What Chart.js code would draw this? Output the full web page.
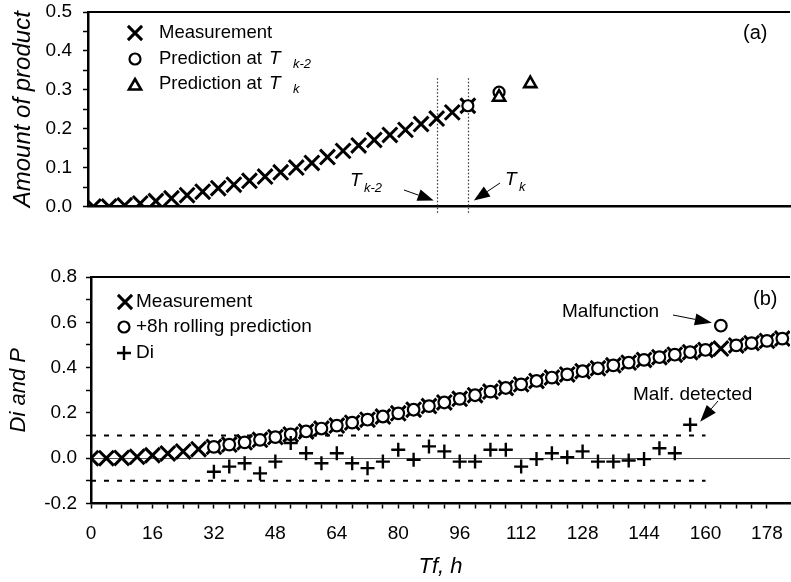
<!DOCTYPE html>
<html><head><meta charset="utf-8">
<script src="https://cdn.jsdelivr.net/npm/chart.js@4/dist/chart.umd.min.js"></script>
<style>
html,body{margin:0;padding:0;background:#fff;}
#wrap{position:relative;width:791px;height:582px;overflow:hidden;}
canvas{position:absolute;left:0;top:0;}
</style></head><body>
<div id="wrap"><canvas id="c1" width="791" height="582"></canvas><canvas id="c2" width="791" height="582"></canvas></div>
<script>
const FONT = '"Liberation Sans", Arial, Helvetica, sans-serif';

// ---------- Panel (a) data ----------
const timesA = [0,4,8,12,16,20,24,28,32,36,40,44,48,52,56,60,64,68,72,76,80,84,88,92,96];
const measA  = [0,0,0.003,0.008,0.014,0.021,0.029,0.038,0.047,0.056,0.066,0.077,0.088,0.1,0.112,0.127,0.143,0.157,0.171,0.184,0.197,0.212,0.226,0.242,0.259];
const predTk2Times = [96,104];
const predTk2Vals  = [0.259,0.294];
const predTkTimes  = [104,112];
const predTkVals   = [0.281,0.316];
const refTimesA    = [88,96];          // T_{k-2}, T_k
const refSubs      = ['k-2','k'];
const legendA      = ['Measurement','Prediction at','Prediction at'];

// ---------- Panel (b) data ----------
const timesB = [0,4,8,12,16,20,24,28,32,36,40,44,48,52,56,60,64,68,72,76,80,84,88,92,96,100,104,108,112,116,120,124,128,132,136,140,144,148,152,156,160,164,168,172,176,180];
const measB  = [0,0,0.001,0.006,0.013,0.021,0.03,0.04,0.05,0.06,0.07,0.081,0.093,0.105,0.118,0.131,0.144,0.157,0.17,0.184,0.198,0.214,0.23,0.246,0.262,0.278,0.294,0.31,0.326,0.341,0.356,0.37,0.384,0.397,0.41,0.422,0.434,0.446,0.457,0.468,0.478,0.484,0.498,0.508,0.518,0.528];
const predTimesB = [32,36,40,44,48,52,56,60,64,68,72,76,80,84,88,92,96,100,104,108,112,116,120,124,128,132,136,140,144,148,152,156,160,164,168,172,176,180];
const predB      = [0.05,0.06,0.07,0.081,0.093,0.105,0.118,0.131,0.144,0.157,0.17,0.184,0.198,0.214,0.23,0.246,0.262,0.278,0.294,0.31,0.326,0.341,0.356,0.37,0.384,0.397,0.41,0.422,0.434,0.446,0.457,0.468,0.478,0.585,0.498,0.508,0.518,0.528];
const diTimes = [32,36,40,44,48,52,56,60,64,68,72,76,80,84,88,92,96,100,104,108,112,116,120,124,128,132,136,140,144,148,152,156];
const diVals  = [-0.06,-0.037,-0.022,-0.067,-0.015,0.067,0.022,-0.022,0.022,-0.022,-0.044,-0.015,0.037,-0.007,0.052,0.03,-0.015,-0.015,0.037,0.037,-0.037,-0.004,0.022,0.004,0.03,-0.015,-0.015,-0.01,-0.004,0.044,0.022,0.148];
const limitVals  = [0.1,-0.1];
const limitRange = [0,160];
const xTickValues = [0,16,32,48,64,80,96,112,128,144,160,176];
const xTickLabels = ['0','16','32','48','64','80','96','112','128','144','160','178'];
const legendB = ['Measurement','+8h rolling prediction','Di'];
const malfTime = 164, malfVal = 0.585, detTime = 156, detVal = 0.148;

function pts(xs, ys){ return xs.map((x,i)=>({x:x, y:ys[i]})); }

// ---------- marker helpers for legends ----------
function mX(ctx,x,y,r,lw){ const d=r*Math.SQRT1_2; ctx.save(); ctx.strokeStyle='#000'; ctx.lineWidth=lw; ctx.beginPath(); ctx.moveTo(x-d,y-d); ctx.lineTo(x+d,y+d); ctx.moveTo(x+d,y-d); ctx.lineTo(x-d,y+d); ctx.stroke(); ctx.restore(); }
function mO(ctx,x,y,r,lw){ ctx.save(); ctx.strokeStyle='#000'; ctx.fillStyle='#fff'; ctx.lineWidth=lw; ctx.beginPath(); ctx.arc(x,y,r,0,Math.PI*2); ctx.fill(); ctx.stroke(); ctx.restore(); }
function mT(ctx,x,y,r,lw){ ctx.save(); ctx.strokeStyle='#000'; ctx.fillStyle='#fff'; ctx.lineWidth=lw; ctx.beginPath(); let a=0; ctx.moveTo(x+Math.sin(a)*r,y-Math.cos(a)*r); a+=2*Math.PI/3; ctx.lineTo(x+Math.sin(a)*r,y-Math.cos(a)*r); a+=2*Math.PI/3; ctx.lineTo(x+Math.sin(a)*r,y-Math.cos(a)*r); ctx.closePath(); ctx.fill(); ctx.stroke(); ctx.restore(); }
function mP(ctx,x,y,r,lw){ ctx.save(); ctx.strokeStyle='#000'; ctx.lineWidth=lw; ctx.beginPath(); ctx.moveTo(x-r,y); ctx.lineTo(x+r,y); ctx.moveTo(x,y-r); ctx.lineTo(x,y+r); ctx.stroke(); ctx.restore(); }
function arrow(ctx,x0,y0,x1,y1,hl,hw){
  ctx.save(); ctx.strokeStyle='#000'; ctx.fillStyle='#000'; ctx.lineWidth=1;
  const a=Math.atan2(y1-y0,x1-x0);
  const bx=x1-Math.cos(a)*hl, by=y1-Math.sin(a)*hl;
  ctx.beginPath(); ctx.moveTo(x0,y0); ctx.lineTo(bx,by); ctx.stroke();
  ctx.beginPath(); ctx.moveTo(x1,y1);
  ctx.lineTo(bx+Math.sin(a)*hw/2, by-Math.cos(a)*hw/2);
  ctx.lineTo(bx-Math.sin(a)*hw/2, by+Math.cos(a)*hw/2);
  ctx.closePath(); ctx.fill(); ctx.restore();
}
function txt(ctx,s,x,y,size,italic,align){
  ctx.save(); ctx.fillStyle='#000'; ctx.font=(italic?'italic ':'')+size+'px '+FONT;
  ctx.textAlign=align||'left'; ctx.textBaseline='middle'; ctx.fillText(s,x,y); ctx.restore();
}
function topBorder(chart){
  const {ctx, chartArea:a} = chart;
  ctx.save(); ctx.strokeStyle='#000'; ctx.lineWidth=2; ctx.beginPath();
  ctx.moveTo(a.left,a.top); ctx.lineTo(a.right,a.top); ctx.stroke(); ctx.restore();
}

// ---------- Panel (a) plugin ----------
const panelA = {
  id:'panelA',
  beforeDatasetsDraw(chart){
    const {ctx, scales:{x,y}, chartArea:a} = chart;
    ctx.save(); ctx.strokeStyle='#333'; ctx.lineWidth=1.2; ctx.setLineDash([1.5,2]);
    refTimesA.forEach(t=>{ const px=Math.round(x.getPixelForValue(t))+0.5; ctx.beginPath(); ctx.moveTo(px,y.getPixelForValue(0.33)); ctx.lineTo(px,a.bottom+8); ctx.stroke(); });
    ctx.restore();
  },
  afterDraw(chart){
    const {ctx, scales:{x,y}} = chart;
    topBorder(chart);
    // legend
    mX(ctx,135,33,10,3); mO(ctx,135,59,5.5,2.2); mT(ctx,135,86,7,2.6);
    txt(ctx,legendA[0],159,33,18.5);
    txt(ctx,legendA[1],159,59,18.5); txt(ctx,'T',269,59,19,true); txt(ctx,refSubs[0],293,64,13,true);
    txt(ctx,legendA[2],159,84,18.5); txt(ctx,'T',269,84,19,true); txt(ctx,refSubs[1],293,89,13,true);
    txt(ctx,'(a)',743,33,20);
    // T labels and arrows
    const p0=x.getPixelForValue(refTimesA[0]), p1=x.getPixelForValue(refTimesA[1]), yb=y.getPixelForValue(0);
    txt(ctx,'T',350,181,19,true); txt(ctx,refSubs[0],364,188,13,true);
    arrow(ctx,404,190,p0-3,yb-6,16,12);
    txt(ctx,'T',505,180,19,true); txt(ctx,refSubs[1],519,187,13,true);
    arrow(ctx,500,183,p1+6,yb-6,16,12);
  }
};

new Chart(document.getElementById('c1'), {
  type:'scatter',
  data:{datasets:[
    {label:'Measurement', data:pts(timesA,measA), pointStyle:'crossRot', pointRadius:10.5, pointHoverRadius:10.5, borderColor:'#000', backgroundColor:'#000', borderWidth:3, order:3},
    {label:'Prediction at Tk-2', data:pts(predTk2Times,predTk2Vals), pointStyle:'circle', pointRadius:5.5, pointHoverRadius:5.5, borderColor:'#000', backgroundColor:'#fff', borderWidth:2.2, order:2},
    {label:'Prediction at Tk', data:pts(predTkTimes,predTkVals), pointStyle:'triangle', pointRadius:7, pointHoverRadius:7, borderColor:'#000', backgroundColor:'#fff', borderWidth:2.6, order:1}
  ]},
  options:{
    responsive:false, animation:false, devicePixelRatio:1,
    layout:{autoPadding:false, padding:{top:12,right:1,left:0,bottom:582-206.5-10}},
    plugins:{legend:{display:false}, tooltip:{enabled:false}},
    scales:{
      x:{type:'linear', min:-1.4, max:178.6, ticks:{display:false}, grid:{display:false, drawTicks:false}, border:{display:true,color:'#000',width:2.5}, afterFit(s){ s.height=10; s.paddingLeft=0; s.paddingRight=0; }},
      y:{type:'linear', min:0, max:0.5,
         ticks:{stepSize:0.05, autoSkip:false, color:'#000', padding:11, font:{family:FONT,size:19},
           callback:(v)=>{ const t=v*10; return Math.abs(t-Math.round(t))<1e-6 ? v.toFixed(1) : ''; }},
         grid:{drawOnChartArea:false, drawTicks:true, tickLength:5, tickColor:'#000', tickWidth:1.5},
         border:{color:'#000',width:2.5},
         title:{display:true, text:'Amount of product', color:'#000', font:{family:FONT,size:24,style:'italic'}, padding:{top:9,bottom:0}},
         afterFit(s){ s.width=88; s.paddingTop=0; s.paddingBottom=0; }}
    }
  },
  plugins:[panelA]
});

// ---------- Panel (b) plugin ----------
const panelB = {
  id:'panelB',
  afterDraw(chart){
    const {ctx, scales:{x,y}} = chart;
    topBorder(chart);
    mX(ctx,125,302,10,3); mO(ctx,124,327,5.5,2.2); mP(ctx,124,353,7,2.4);
    txt(ctx,legendB[0],136,302,19);
    txt(ctx,legendB[1],136,327,19);
    txt(ctx,legendB[2],136,353,19);
    txt(ctx,'(b)',753,299,20);
    const mx=x.getPixelForValue(malfTime), my=y.getPixelForValue(malfVal);
    txt(ctx,'Malfunction',562,312,19);
    arrow(ctx,673,315,mx-9,my-3,17,12);
    const dx=x.getPixelForValue(detTime), dy=y.getPixelForValue(detVal);
    txt(ctx,'Malf. detected',633,395,19);
    arrow(ctx,718,401,dx+10,dy-3,17,12);
  }
};

new Chart(document.getElementById('c2'), {
  type:'scatter',
  data:{datasets:[
    {label:'Upper limit', type:'line', data:pts(limitRange,[limitVals[0],limitVals[0]]), showLine:true, borderColor:'#000', borderWidth:2, borderDash:[5,8], pointRadius:0, fill:false, order:5},
    {label:'Lower limit', type:'line', data:pts(limitRange,[limitVals[1],limitVals[1]]), showLine:true, borderColor:'#000', borderWidth:2, borderDash:[5,8], pointRadius:0, fill:false, order:5},
    {label:'Measurement', data:pts(timesB,measB), pointStyle:'crossRot', pointRadius:10.5, pointHoverRadius:10.5, borderColor:'#000', backgroundColor:'#000', borderWidth:3, order:3},
    {label:'+8h rolling prediction', data:pts(predTimesB,predB), pointStyle:'circle', pointRadius:5.8, pointHoverRadius:5.8, borderColor:'#000', backgroundColor:'#fff', borderWidth:2.2, order:2},
    {label:'Di', data:pts(diTimes,diVals), pointStyle:'cross', pointRadius:7, pointHoverRadius:7, borderColor:'#000', backgroundColor:'#000', borderWidth:2.4, order:1}
  ]},
  options:{
    responsive:false, animation:false, devicePixelRatio:1,
    layout:{autoPadding:false, padding:{top:277,right:1,left:0,bottom:0}},
    plugins:{legend:{display:false}, tooltip:{enabled:false}},
    scales:{
      x:{type:'linear', min:0, max:182,
         afterBuildTicks(s){ s.ticks = s.ticks.filter(t=>t.value<=180 && t.value%4===0); },
         ticks:{stepSize:4, autoSkip:false, maxRotation:0, minRotation:0, color:'#000', padding:14, font:{family:FONT,size:19},
           callback:(v)=>{ const i=xTickValues.indexOf(v); return i>=0 ? xTickLabels[i] : ''; }},
         grid:{drawOnChartArea:false, drawTicks:true, tickLength:5, tickColor:'#000', tickWidth:1.5},
         border:{color:'#000',width:2.5},
         title:{display:true, text:'Tf, h', color:'#000', font:{family:FONT,size:22,style:'italic'}, padding:{top:0,bottom:2}},
         afterFit(s){ s.height=582-503.5; s.paddingLeft=0; s.paddingRight=0; }},
      y:{type:'linear', min:-0.2, max:0.8,
         ticks:{stepSize:0.1, autoSkip:false, color:'#000', padding:9, font:{family:FONT,size:19},
           callback:(v)=>{ const t=v*5; return Math.abs(t-Math.round(t))<1e-6 ? v.toFixed(1) : ''; }},
         grid:{drawOnChartArea:true, drawTicks:true, tickLength:5, tickColor:'#000', tickWidth:1.5, lineWidth:1,
           color:(c)=> (c.tick && Math.abs(c.tick.value)<1e-9) ? '#555' : 'rgba(0,0,0,0)'},
         border:{color:'#000',width:2.5},
         title:{display:true, text:'Di and P', color:'#000', font:{family:FONT,size:22,style:'italic'}, padding:{top:6,bottom:0}},
         afterFit(s){ s.width=91; s.paddingTop=0; s.paddingBottom=0; }}
    }
  },
  plugins:[panelB]
});
</script>
</body></html>
